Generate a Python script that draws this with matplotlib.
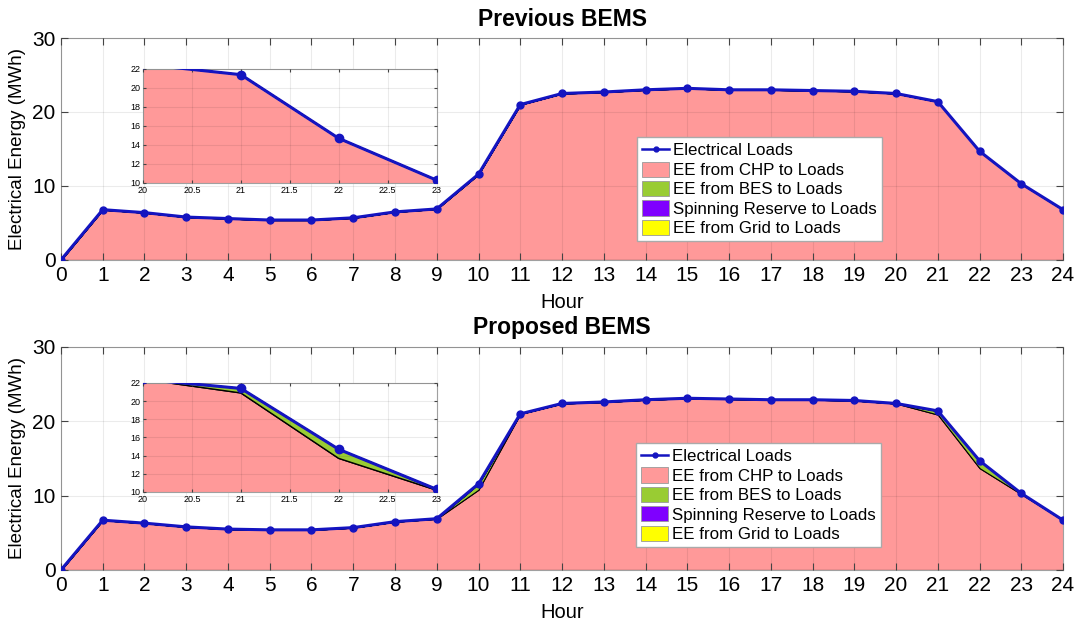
import numpy as np
import matplotlib.pyplot as plt
from matplotlib.patches import Patch
from matplotlib.lines import Line2D

plt.rcParams['font.family'] = ['Liberation Sans', 'DejaVu Sans']

# ==========================================
# Data (MWh per hour)
# ==========================================

hours = list(range(25))

load_prev = [0.0, 6.8, 6.4, 5.8, 5.6, 5.4, 5.4, 5.7, 6.5, 6.9, 11.6, 21.0, 22.5,
             22.7, 23.0, 23.2, 23.0, 23.0, 22.9, 22.8, 22.5, 21.4, 14.7, 10.3, 6.8]
chp_prev = load_prev
bes_prev = [0.0] * 25

load_prop = [0.0, 6.7, 6.3, 5.8, 5.5, 5.4, 5.4, 5.7, 6.5, 6.9, 11.6, 21.0, 22.4,
             22.6, 22.9, 23.1, 23.0, 22.9, 22.9, 22.8, 22.4, 21.4, 14.7, 10.3, 6.7]
chp_prop = [0.0, 6.7, 6.3, 5.8, 5.5, 5.4, 5.4, 5.7, 6.5, 6.9, 10.8, 21.0, 22.4,
            22.6, 22.9, 23.1, 23.0, 22.9, 22.9, 22.8, 22.4, 20.9, 13.7, 10.2, 6.7]
bes_prop = [l - c for l, c in zip(load_prop, chp_prop)]

spin = [0.0] * 25
grid = [0.0] * 25

titles = ["Previous BEMS", "Proposed BEMS"]
labels = ["Electrical Loads", "EE from CHP to Loads", "EE from BES to Loads",
          "Spinning Reserve to Loads", "EE from Grid to Loads"]

c_chp = '#FF9999'
c_bes = '#99CC33'
c_spin = '#7F00FF'
c_grid = '#FFFF00'
c_line = '#1414C0'


def draw(ax, load, chp, bes, small=False):
    ax.stackplot(hours, chp, bes, spin, grid,
                 colors=[c_chp, c_bes, c_spin, c_grid],
                 edgecolor='black', linewidth=0.8 if not small else 1.0)
    ax.plot(hours, load, '-o', color=c_line, lw=2.2,
            ms=5 if not small else 6, mfc=c_line, mec=c_line, zorder=5)
    ax.grid(True, color='black', alpha=0.08, lw=0.8)
    ax.set_axisbelow(False)
    ax.tick_params(direction='in', top=True, right=True, color='#444444',
                   length=5 if not small else 2.5)
    for s in ax.spines.values():
        s.set_color('#A0A0A0')
        s.set_linewidth(0.8)


fig = plt.figure(figsize=(10.81, 6.23), dpi=100)

main_pos = [[0.0564, 0.5827, 0.927, 0.3563], [0.0564, 0.0851, 0.927, 0.358]]
inset_pos = [[0.1323, 0.7063, 0.2715, 0.183], [0.1323, 0.2103, 0.2715, 0.175]]
leg_anchor = [(0.575, 0.554), (0.574, 0.57)]

series = [(load_prev, chp_prev, bes_prev), (load_prop, chp_prop, bes_prop)]

for i in range(2):
    load, chp, bes = series[i]

    ax = fig.add_axes(main_pos[i])
    draw(ax, load, chp, bes)
    ax.set_xlim(0, 24)
    ax.set_ylim(0, 30)
    ax.set_xticks(range(25))
    ax.set_yticks([0, 10, 20, 30])
    ax.tick_params(labelsize=15, pad=4)
    ax.set_xlabel("Hour", fontsize=14.5, labelpad=6)
    ax.set_ylabel("Electrical Energy (MWh)", fontsize=13.5, labelpad=4)
    ax.set_title(titles[i], fontsize=16.5, fontweight='bold', pad=9)

    handles = [Line2D([], [], color=c_line, lw=1.8, marker='o', ms=3.5)]
    for c in [c_chp, c_bes, c_spin, c_grid]:
        handles.append(Patch(facecolor=c, edgecolor='#999999', lw=0.6))
    ax.legend(handles, labels, loc='upper left', bbox_to_anchor=leg_anchor[i],
              borderaxespad=0, fontsize=12.2, frameon=True, fancybox=False,
              edgecolor='#AAAAAA', framealpha=1, handlelength=1.6,
              handleheight=1.0, handletextpad=0.2, labelspacing=0.18,
              borderpad=0.3)

    axi = fig.add_axes(inset_pos[i])
    draw(axi, load, chp, bes, small=True)
    axi.set_xlim(20, 23)
    axi.set_ylim(10, 22)
    axi.set_xticks([20, 20.5, 21, 21.5, 22, 22.5, 23])
    axi.set_xticklabels(['20', '20.5', '21', '21.5', '22', '22.5', '23'])
    axi.set_yticks(range(10, 23, 2))
    axi.tick_params(labelsize=6.5, pad=2)
    axi.set_facecolor('white')

fig.savefig("out.png", dpi=100)
